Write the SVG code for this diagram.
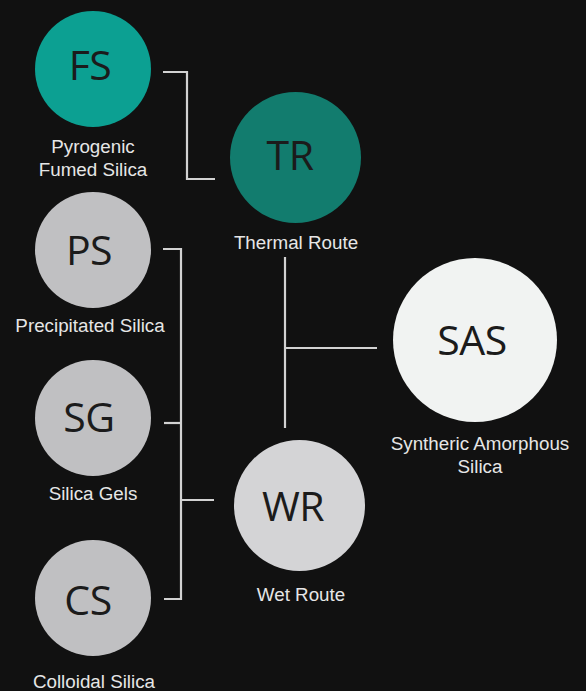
<svg xmlns="http://www.w3.org/2000/svg" width="586" height="691" viewBox="0 0 586 691">
<style>
.abbr{font-family:"Open Sans","Noto Sans",sans-serif;font-size:41px;fill:#1b1b1b;text-anchor:middle;letter-spacing:-0.5px}
.lbl{font-family:"Liberation Sans",Arial,sans-serif;font-size:18.8px;fill:#e6e6e6;text-anchor:middle}
.conn{fill:none;stroke:#d2d2d2;stroke-width:2.2}
</style>
<rect width="586" height="691" fill="#111111"/>
<g id="connectors">
<polyline class="conn" points="163,72 187,72 187,179 215,179"/>
<polyline class="conn" points="163,249 181,249 181,599 164,599"/>
<line class="conn" x1="164" y1="423" x2="181" y2="423"/>
<line class="conn" x1="181" y1="500" x2="214" y2="500"/>
<line class="conn" x1="285" y1="257" x2="285" y2="428"/>
<line class="conn" x1="285" y1="348" x2="377" y2="348"/>
</g>
<g id="FS">
<circle cx="93" cy="69" r="58" fill="#0ca092"/>
<text class="abbr" x="90" y="80">FS</text>
<text class="lbl" x="93" y="153">Pyrogenic</text>
<text class="lbl" x="93" y="176">Fumed Silica</text>
</g>
<g id="TR">
<circle cx="295.5" cy="157.5" r="65.5" fill="#127c6e"/>
<text class="abbr" x="290" y="170">TR</text>
<text class="lbl" x="296" y="249">Thermal Route</text>
</g>
<g id="PS">
<circle cx="93" cy="250" r="58" fill="#c0c0c2"/>
<text class="abbr" x="89" y="265">PS</text>
<text class="lbl" x="90" y="332">Precipitated Silica</text>
</g>
<g id="SG">
<circle cx="93" cy="418" r="58" fill="#c0c0c2"/>
<text class="abbr" x="89" y="432">SG</text>
<text class="lbl" x="93" y="500">Silica Gels</text>
</g>
<g id="CS">
<circle cx="93" cy="598" r="58" fill="#c0c0c2"/>
<text class="abbr" x="88" y="615">CS</text>
<text class="lbl" x="94" y="688">Colloidal Silica</text>
</g>
<g id="WR">
<circle cx="299.5" cy="505.5" r="65.5" fill="#d4d4d6"/>
<text class="abbr" x="293" y="521">WR</text>
<text class="lbl" x="301" y="601">Wet Route</text>
</g>
<g id="SAS">
<circle cx="475" cy="340" r="82" fill="#f1f3f2"/>
<text class="abbr" x="472" y="355">SAS</text>
<text class="lbl" x="480" y="450">Syntheric Amorphous</text>
<text class="lbl" x="480" y="473">Silica</text>
</g>
</svg>
